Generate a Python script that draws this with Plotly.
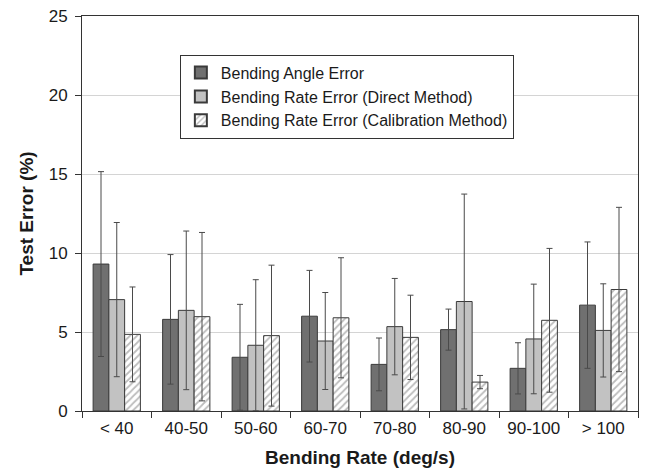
import plotly.graph_objects as go

categories = ["< 40", "40-50", "50-60", "60-70", "70-80", "80-90", "90-100", "> 100"]

angle_err = [9.3, 5.8, 3.4, 6.0, 2.95, 5.15, 2.7, 6.7]
angle_sd = [5.85, 4.1, 3.35, 2.9, 1.67, 1.3, 1.62, 4.0]

direct_err = [7.05, 6.37, 4.16, 4.43, 5.34, 6.93, 4.56, 5.1]
direct_sd = [4.88, 5.02, 4.15, 3.07, 3.05, 6.8, 3.47, 2.95]

calib_err = [4.85, 5.97, 4.77, 5.9, 4.66, 1.83, 5.74, 7.69]
calib_sd = [3.0, 5.33, 4.46, 3.8, 2.67, 0.42, 4.55, 5.2]

y_ticks = [0, 5, 10, 15, 20, 25]

FONT = "Liberation Sans, Arial, Helvetica, sans-serif"
EB = dict(type="data", visible=True, color="#4a4a4a", thickness=1, width=3)

fig = go.Figure()
fig.add_trace(go.Bar(
    name="Bending Angle Error", x=categories, y=angle_err,
    error_y=dict(array=angle_sd, **EB),
    marker=dict(color="#707070", line=dict(color="#3a3a3a", width=1)),
))
fig.add_trace(go.Bar(
    name="Bending Rate Error (Direct Method)", x=categories, y=direct_err,
    error_y=dict(array=direct_sd, **EB),
    marker=dict(color="#c2c2c2", line=dict(color="#3a3a3a", width=1)),
))
fig.add_trace(go.Bar(
    name="Bending Rate Error (Calibration Method)", x=categories, y=calib_err,
    error_y=dict(array=calib_sd, **EB),
    marker=dict(color="white", line=dict(color="#3a3a3a", width=1),
                pattern=dict(shape="/", fgcolor="#7a7a7a", bgcolor="white",
                             size=5, solidity=0.35)),
))

fig.update_layout(
    width=648, height=475,
    margin=dict(l=82, r=10, t=16, b=64, autoexpand=False),
    paper_bgcolor="white", plot_bgcolor="white",
    barmode="group", bargap=0.32, bargroupgap=0,
    font=dict(family=FONT, size=16, color="#1a1a1a"),
    showlegend=True,
    legend=dict(
        x=0.176, y=0.902, xanchor="left", yanchor="top",
        bgcolor="white", bordercolor="#333333", borderwidth=1,
        font=dict(family=FONT, size=16, color="#1a1a1a"),
        tracegroupgap=0, itemsizing="constant",
    ),
    xaxis=dict(
        type="category", tickson="boundaries",
        showline=True, linecolor="#333333", linewidth=1, mirror=True,
        ticks="outside", ticklen=6, tickcolor="#333333",
        showgrid=False,
        tickfont=dict(family=FONT, size=17, color="#1a1a1a"),
        ticklabelstandoff=2,
        title=dict(text="<b>Bending Rate (deg/s)</b>", standoff=13,
                   font=dict(family=FONT, size=19, color="#1a1a1a")),
    ),
    yaxis=dict(
        range=[0, 25], tickvals=y_ticks,
        showline=True, linecolor="#333333", linewidth=1, mirror=True,
        ticks="outside", ticklen=6, tickcolor="#333333",
        showgrid=True, gridcolor="#d4d4d4", gridwidth=1,
        zeroline=False,
        tickfont=dict(family=FONT, size=17, color="#1a1a1a"),
        ticklabelstandoff=4,
        title=dict(text="<b>Test Error (%)</b>", standoff=10,
                   font=dict(family=FONT, size=19, color="#1a1a1a")),
    ),
)

fig.write_html("out.html",
               config={"displayModeBar": False},
               post_script="document.body.style.margin='0';document.body.style.overflow='hidden';")
